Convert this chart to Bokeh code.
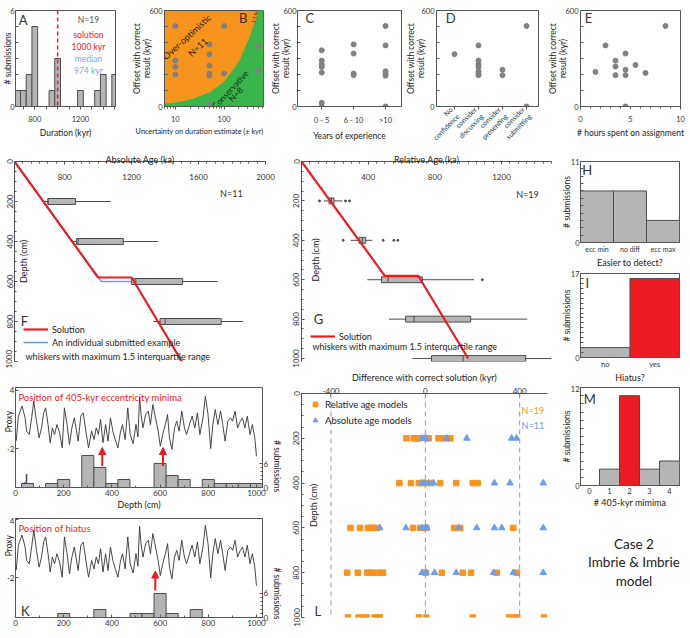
import math
from bokeh.plotting import figure
from bokeh.layouts import row, column
from bokeh.models import (FixedTicker, LinearAxis, Range1d, Span, Label, Arrow, Title,
                          NormalHead, Legend, LegendItem, ColumnDataSource)
from bokeh.embed import file_html
from bokeh.resources import INLINE

FONT = "Lato"
GRAY = "#b5b5b5"
EDGE = "#4d4d4d"
RED = "#ed1c24"
ORANGE = "#f7941d"
GREEN = "#39b54a"
BLUE = "#6d9eeb"
PT = "#808080"
AX = "#555555"
TXT = "#333333"
EMSP = "\u2003"

# ---------------- data ----------------
# A: durations
dur_bins = [650, 700, 750, 800, 950, 1000, 1200, 1350, 1400, 1500]
dur_counts = [1, 1, 2, 5, 1, 3, 1, 1, 2, 2]
dur_solution = 1000
# B: uncertainty vs offset
unc_x = [10, 10, 10, 10, 50, 50, 50, 50, 50, 50, 50, 100, 100, 500, 500]
unc_off = [503, 287, 247, 200, 388, 327, 256, 206, 192, 18, 4, 503, 206, 377, 226]
line11_x = [6, 10, 20, 50, 100, 200, 300, 400, 500, 560, 640]
line11_y = [18, 25, 42, 88, 155, 280, 400, 505, 590, 650, 730]
# C: experience
exp_cats = ["0 - 5", "6 - 10", ">10"]
exp_idx = [0, 0, 0, 0, 0, 0, 0, 1, 1, 1, 1, 2, 2, 2, 2, 2, 2]
exp_off = [351, 287, 262, 247, 212, 24, 0, 388, 331, 206, 196, 503, 382, 220, 206, 192, 0]
# D: confidence
conf_cats = ["No\nconfidence", "consider\ndiscussing", "consider\npresenting", "consider\nsubmitting"]
conf_idx = [0, 1, 1, 1, 1, 1, 1, 1, 2, 2, 3, 3]
conf_off = [327, 382, 287, 262, 247, 220, 206, 196, 230, 196, 503, 0]
# E: hours
hours = [1.5, 2.5, 3.5, 3.5, 3.5, 4.5, 4.5, 4.5, 4.5, 5.5, 6.5, 8.5]
hours_off = [216, 382, 287, 250, 196, 331, 230, 196, 0, 259, 210, 503]

# F: absolute age models
sol_depth = [0, 580, 580, 1000]
sol_abs_age = [500, 1000, 1200, 1500]
ex_abs_age = [500, 985, 1020, 1200]
ex_depth = [0, 565, 600, 600]
f_depth = [200, 400, 600, 800]
f_q1 = [700, 870, 1200, 1370]
f_q3 = [865, 1150, 1505, 1735]
f_med = [700, 880, 1225, 1400]
f_wlo = [672, 850, 1190, 1330]
f_whi = [1075, 1360, 1715, 1865]
# G: relative age models
sol_rel_age = [0, 500, 700, 1000]
g_depth = [200, 400, 600, 800, 1000]
g_q1 = [165, 345, 480, 625, 780]
g_q3 = [195, 385, 725, 1015, 1345]
g_med = [180, 365, 520, 675, 970]
g_wlo = [135, 295, 395, 525, 665]
g_whi = [245, 425, 1035, 1355, 1500]
g_out_age = [108, 264, 288, 250, 490, 554, 578, 1085]
g_out_depth = [200, 200, 200, 400, 400, 400, 400, 600]

# H, I, M
easier_cats = ["ecc min", "no diff", "ecc max"]
easier_counts = [7, 7, 3]
hiatus_cats = ["no", "yes"]
hiatus_counts = [2, 16]
minima_n = [0, 1, 2, 3, 4]
minima_counts = [0, 2, 11, 2, 3]

# J, K: proxy record and histograms
proxy_depth = [3, 12, 27, 40, 46, 57, 67, 76, 87, 98, 108, 117, 125, 135, 144, 153, 162, 172, 183, 194,
               203, 214, 224, 234, 244, 251, 260, 271, 281, 292, 303, 316, 326, 335, 344, 353, 363, 374, 384, 394,
               404, 414, 425, 435, 444, 455, 466, 476, 488, 500, 508, 515, 521, 529, 540, 551, 560, 570, 581, 592,
               601, 611, 622, 631, 639, 649, 660, 669, 679, 690, 701, 710, 724, 733, 744, 755, 765, 778, 788, 799,
               810, 819, 829, 840, 851, 860, 870, 881, 892, 901, 911, 922, 933, 942, 952, 962, 973, 983, 993, 1000]
proxy_value = [-1.2, 1.35, 2.4, 1.17, -0.2, -0.55, 1.17, 2.9, 0.83, -0.9, 0.14, 1.69, 2.21, 0.48, -1.41, 0.14, -0.55, 0.48, -0.38, -1.93,
               2.21, 0.48, -1.58, 0.14, 1.17, 0.14, -1.24, 1.35, 1.69, -0.2, -1.93, -0.2, -1.07, 0.14, -0.55, 1.0, -1.4, 0.48, -1.24, 1.17,
               -0.2, -1.07, -1.93, -0.38, 0.48, -1.07, 2.21, -0.55, -1.5, 0.5, -0.8, 3.3, 1.5, 0.14, 1.52, 1.86, 0.48, 2.55, 1.17, -0.2,
               -1.76, -0.55, 0.48, 1.52, -0.9, -2.1, 0.14, 0.83, -0.2, 1.86, 0.14, -0.55, 0.66, 1.35, 0.14, 1.69, -0.55, 1.17, 3.41, 1.52,
               -2.0, 0.48, 2.03, 0.48, 1.86, 0.48, -1.24, 0.83, 1.17, 0.83, 1.86, 0.14, 0.83, 1.17, 0.14, 1.35, -0.55, 0.48, -0.9, -2.8]
j_bins = [50, 150, 200, 300, 350, 400, 450, 600, 650, 700, 800, 850, 900, 950, 1000]
j_counts = [1, 1, 2, 8, 5, 1, 2, 6, 3, 2, 2, 1, 1, 1, 1]
j_arrow_depth = [360, 612]
j_arrow_tail = [-3.8, -3.8]
j_arrow_head = [-1.9, -1.9]
k_bins = [200, 350, 500, 550, 600, 650, 750]
k_counts = [1, 2, 1, 1, 6, 1, 2]
k_arrow_depth = [580]
k_arrow_tail = [-3.3]
k_arrow_head = [-1.3]

# L: difference with correct solution
rel_diff = {200: [-80, -49, -42, -35, -24, 7, 14, 56, 77, 92, 106],
            400: [-110, -61, -28, -14, 7, 24, 63, 131, 201, 222],
            600: [-317, -277, -244, -232, -221, -204, -52, -21, 4, 122, 148, 373],
            800: [-331, -286, -246, -232, -218, -193, -179, 1, 70, 159, 194, 303, 387],
            1000: [-328, -283, -260, -249, -215, -201, -193, -27, 3, 201, 355, 380, 390, 503]}
abs_diff = {200: [-14, -4, 4, 90, 176, 366, 387],
            400: [-14, -4, 14, 35, 293, 359, 500],
            600: [-193, -82, -14, 0, 7, 141, 218, 293, 324, 500],
            800: [-14, 4, 39, 131, 289, 373, 500]}
guide_lines = [-400, 0, 400]

case_lines = ["Case 2", "Imbrie & Imbrie", "model"]


# ---------------- helpers ----------------
def sty(ax, fs="8px", lfs="9px"):
    ax.axis_line_color = AX
    ax.major_tick_line_color = AX
    ax.minor_tick_line_color = AX
    ax.major_tick_in = 3
    ax.major_tick_out = 0
    ax.minor_tick_in = 2
    ax.minor_tick_out = 0
    ax.major_label_text_font = FONT
    ax.major_label_text_font_size = fs
    ax.major_label_text_color = TXT
    ax.axis_label_text_font = FONT
    ax.axis_label_text_font_size = lfs
    ax.axis_label_text_font_style = "normal"
    ax.axis_label_text_color = "#222222"
    ax.major_label_standoff = 2
    ax.axis_label_standoff = 2


def fig(w, h, l, r, t, b, **kw):
    p = figure(width=w, height=h, min_border_left=l, min_border_right=r,
               min_border_top=t, min_border_bottom=b, output_backend="svg",
               toolbar_location=None, **kw)
    p.xgrid.visible = False
    p.ygrid.visible = False
    p.outline_line_color = AX
    p.background_fill_color = "white"
    p.border_fill_color = "white"
    for ax in p.axis:
        sty(ax)
    return p


def setticks(ax, major, labels=None, minor=()):
    major = list(major)
    ax.ticker = FixedTicker(ticks=major, minor_ticks=list(minor))
    if labels is not None:
        ax.major_label_overrides = {m: s for m, s in zip(major, labels)}


def lab(p, x, y, text, size="9px", color=TXT, align="left", baseline="middle", angle=0.0, **kw):
    p.add_layout(Label(x=x, y=y, text=text, text_font=FONT, text_font_size=size,
                       text_color=color, text_align=align, text_baseline=baseline,
                       angle=angle, **kw))


def inner_title(p, text, dx, ymid, size="9px"):
    # vertical axis title drawn inside the frame, dx pixels from its left edge
    p.add_layout(Label(x=dx, y=ymid, x_units="screen", y_units="data", text=text,
                       angle=math.pi / 2, text_align="center", text_baseline="middle",
                       text_font=FONT, text_font_size=size, text_color="#222222"))


def style_legend(lg, fs="9px", gw=25, gh=12, sp=1):
    lg.border_line_alpha = 0
    lg.background_fill_alpha = 0
    lg.label_text_font = FONT
    lg.label_text_font_size = fs
    lg.label_text_color = "#222222"
    lg.glyph_width = gw
    lg.glyph_height = gh
    lg.label_height = gh
    lg.spacing = sp
    lg.padding = 0
    lg.margin = 0
    lg.label_standoff = 4


def top_row_axes(p):
    xa = p.xaxis[0]
    xa.major_tick_in = 0
    xa.major_tick_out = 3
    xa.minor_tick_in = 0
    xa.minor_tick_out = 2
    xa.major_label_text_font_size = "7.5px"
    xa.axis_label_text_font_size = "8.5px"
    xa.major_label_standoff = 6
    xa.axis_label_standoff = 3
    ya = p.yaxis[0]
    ya.major_label_text_font_size = "7.5px"
    ya.axis_label_text_font_size = "8.5px"
    ya.axis_label_text_line_height = 1.0


def offset_yaxis(p, als=-6):
    ay = p.yaxis[0]
    setticks(ay, range(0, 601, 100), ["0", "", "", "", "", "", "600"])
    top_row_axes(p)
    ay.axis_label = "Offset with correct\nresult (kyr)"
    ay.axis_label_standoff = als


# ---------------- A ----------------
pA = fig(118, 150, 15, 3, 10, 41, x_range=(631, 1507), y_range=(0, 6))
pA.vbar(x=dur_bins, top=dur_counts, width=50, fill_color=GRAY, line_color=EDGE, line_width=1)
pA.add_layout(Span(location=dur_solution, dimension="height", line_color=RED,
                   line_dash="4 3", line_width=1.5))
setticks(pA.xaxis[0], range(700, 1501, 100), ["", "800", "", "", "", "1200", "", "", ""])
setticks(pA.yaxis[0], range(0, 7), ["0", "", "", "", "", "", "6"])
top_row_axes(pA)
pA.xaxis.axis_label = "Duration (kyr)"
pA.yaxis.axis_label = "# submissions"
pA.yaxis[0].axis_label_standoff = -6
pA.yaxis[0].major_label_standoff = 1
lab(pA, 698, 5.4, "A", size="13px", align="center")
lab(pA, 1270, 5.4, "N=19", size="8.5px", color="#555555", align="center")
lab(pA, 1270, 4.49, "solution", size="8.5px", color=RED, align="center")
lab(pA, 1270, 3.70, "1000 kyr", size="8.5px", color=RED, align="center")
lab(pA, 1270, 2.97, "median", size="8.5px", color="#7fa7e1", align="center")
lab(pA, 1270, 2.25, "974 kyr", size="8.5px", color="#7fa7e1", align="center")

# ---------------- B ----------------
pB = fig(150, 150, 46, 5, 10, 41, x_axis_type="log", x_range=(6, 640), y_range=(0, 600))
pB.background_fill_color = ORANGE
pB.varea(x=line11_x, y1=0, y2=line11_y, fill_color=GREEN)
pB.scatter(x=unc_x, y=unc_off, size=5, color=PT)
setticks(pB.xaxis[0], [10, 100], ["10", "100"],
         [6, 7, 8, 9, 20, 30, 40, 50, 60, 70, 80, 90, 200, 300, 400, 500, 600])
offset_yaxis(pB)
pB.add_layout(Title(text="Uncertainty on duration estimate (\u00b1 kyr)", align="right",
                    text_font=FONT, text_font_size="7.3px", text_font_style="normal",
                    text_color="#222222", standoff=1), "below")
lab(pB, 17.2, 436, "Over-optimistic", size="9px", color="#2b1d0e", align="center", angle=0.74)
lab(pB, 28.6, 371, "N=11", size="9px", color="#2b1d0e", align="center", angle=0.74)
lab(pB, 134, 105, "Conservative", size="8.5px", color="#12301a", align="center", angle=0.82)
lab(pB, 174, 75, "N=8", size="8.5px", color="#12301a", align="center", angle=0.82)
lab(pB, 430, 570, "1:1 line", size="5px", color="#5a2a00", align="center", angle=1.3)
lab(pB, 246, 551, "B", size="13px", align="center")

# ---------------- C ----------------
pC = fig(135, 150, 25, 2, 10, 41, x_range=(-0.76, 2.5), y_range=(0, 600))
pC.scatter(x=exp_idx, y=exp_off, size=5, color=PT)
setticks(pC.xaxis[0], [0, 1, 2], exp_cats)
offset_yaxis(pC, als=-11)
pC.yaxis[0].major_label_standoff = 1
pC.xaxis.axis_label = "Years of experience"
lab(pC, -0.37, 551, "C", size="13px", align="center")

# ---------------- D ----------------
pD = fig(142, 150, 29, 7, 10, 41, x_range=(-0.75, 3.5), y_range=(0, 600))
pD.scatter(x=conf_idx, y=conf_off, size=5, color=PT)
setticks(pD.xaxis[0], [0, 1, 2, 3], conf_cats)
offset_yaxis(pD, als=-8)
pD.xaxis[0].major_label_orientation = 0.785
pD.xaxis[0].major_label_text_font_size = "7px"
pD.xaxis[0].major_label_standoff = 2
lab(pD, -0.16, 551, "D", size="13px", align="center")

# ---------------- E ----------------
pE = fig(145, 150, 35, 10, 10, 41, x_range=(0, 10), y_range=(0, 600))
pE.scatter(x=hours, y=hours_off, size=5, color=PT)
setticks(pE.xaxis[0], [0, 5, 10], ["0", "5", "10"], range(1, 10))
offset_yaxis(pE)
pE.xaxis.axis_label = "# hours spent on assignment"
lab(pE, 0.8, 551, "E", size="13px", align="center")

# ---------------- F ----------------
box_h = 30
pF = fig(285, 218, 14, 20, 11, 7, x_range=(500, 2000), y_range=(1000, 0), x_axis_location="above")
pF.outline_line_color = None
pF.segment(x0=f_wlo, y0=f_depth, x1=f_whi, y1=f_depth, line_color=EDGE, line_width=1)
pF.hbar(y=f_depth, left=f_q1, right=f_q3, height=box_h, fill_color=GRAY, line_color=EDGE)
pF.segment(x0=f_med, y0=[d - box_h / 2 for d in f_depth], x1=f_med,
           y1=[d + box_h / 2 for d in f_depth], line_color=EDGE)
rFb = pF.line(ex_abs_age, ex_depth, line_color=BLUE, line_width=1.5)
rFr = pF.line(sol_abs_age, sol_depth, line_color=RED, line_width=2.2)
ax = pF.xaxis[0]
setticks(ax, [800, 1200, 1600, 2000], None, range(500, 2001, 50))
ax.axis_label = "Absolute Age (ka)"
ax.major_label_standoff = -18
ax.axis_label_standoff = 6
ay = pF.yaxis[0]
setticks(ay, range(0, 1001, 200), None, range(0, 1001, 50))
ay.major_label_orientation = "vertical"
inner_title(pF, "Depth (cm)", 9, 500)
legF = Legend(items=[LegendItem(label="Solution", renderers=[rFr]),
                     LegendItem(label="An individual submitted example", renderers=[rFb])],
              location=(9, 13))
style_legend(legF)
pF.add_layout(legF)
lab(pF, 566, 975, "whiskers with maximum 1.5 interquartile range", size="9px", color="#222222")
lab(pF, 560, 795, "F", size="13px", align="center")
lab(pF, 1796, 160, "N=11", size="9px", align="center")

# ---------------- G ----------------
pG = fig(268, 218, 16, 2, 11, 7, x_range=(0, 1500), y_range=(1015, 0), x_axis_location="above")
pG.outline_line_color = None
pG.segment(x0=g_wlo, y0=g_depth, x1=g_whi, y1=g_depth, line_color=EDGE, line_width=1)
pG.hbar(y=g_depth, left=g_q1, right=g_q3, height=box_h, fill_color=GRAY, line_color=EDGE)
pG.segment(x0=g_med, y0=[d - box_h / 2 for d in g_depth], x1=g_med,
           y1=[d + box_h / 2 for d in g_depth], line_color=EDGE)
pG.scatter(x=g_out_age, y=g_out_depth, size=2, color=EDGE)
rGr = pG.line(sol_rel_age, sol_depth, line_color=RED, line_width=2.2)
ax = pG.xaxis[0]
setticks(ax, [400, 800, 1200], None, range(0, 1501, 50))
ax.axis_label = "Relative Age (ka)"
ax.major_label_standoff = -18
ax.axis_label_standoff = 6
ay = pG.yaxis[0]
setticks(ay, range(0, 1001, 200), None, range(0, 1001, 50))
ay.major_label_orientation = "vertical"
inner_title(pG, "Depth (cm)", 14, 500)
legG = Legend(items=[LegendItem(label="Solution", renderers=[rGr])], location=(9, 19))
style_legend(legG)
pG.add_layout(legG)
lab(pG, 66, 940, "whiskers with maximum 1.5 interquartile range", size="9px", color="#222222")
lab(pG, 102, 800, "G", size="13px", align="center")
lab(pG, 1356, 165, "N=19", size="9px", align="center")

# ---------------- L ----------------
pL = fig(268, 270, 16, 6, 19, 21, x_range=(-525, 518), y_range=(1000, 0), x_axis_location="above")
pL.outline_line_color = None
for g in guide_lines:
    pL.add_layout(Span(location=g, dimension="height", line_color="#999999",
                       line_dash="5 4", line_width=1))
rx, ry = [], []
for d, vals in rel_diff.items():
    rx += vals
    ry += [d] * len(vals)
axx, axy = [], []
for d, vals in abs_diff.items():
    axx += vals
    axy += [d] * len(vals)
rL1 = pL.scatter(x=rx, y=ry, marker="square", size=5.5, color=ORANGE)
rL2 = pL.scatter(x=axx, y=axy, marker="triangle", size=6.5, color=BLUE)
ax = pL.xaxis[0]
setticks(ax, guide_lines, ["-400", "0", "400"])
ax.axis_label = "Difference with correct solution (kyr)"
ax.major_label_standoff = 0
ay = pL.yaxis[0]
setticks(ay, range(0, 1001, 200), None, range(0, 1001, 50))
ay.major_label_orientation = "vertical"
inner_title(pL, "Depth (cm)", 12, 500)
legL = Legend(items=[LegendItem(label="Relative age models", renderers=[rL1]),
                     LegendItem(label="Absolute age models", renderers=[rL2])],
              location=(8, 190))
style_legend(legL, fs="9.5px", gw=12, gh=14, sp=2)
pL.add_layout(legL)
lab(pL, 456, 74, "N=19", size="9px", color=ORANGE, align="center")
lab(pL, 456, 143, "N=11", size="9px", color=BLUE, align="center")
lab(pL, -456, 970, "L", size="13px", align="center")


# ---------------- H, I, M ----------------
def count_yaxis(p, top):
    ay = p.yaxis[0]
    setticks(ay, range(0, top + 1), ["0"] + [""] * (top - 1) + [str(top)])
    ay.axis_label = "# submissions"
    ay.major_label_text_font_size = "7.5px"
    ay.axis_label_text_font_size = "8.5px"
    ay.axis_label_standoff = -4
    ay.major_label_standoff = 1


pH = fig(137, 120, 27, 11, 11, 22, x_range=(-0.5, 2.5), y_range=(0, 11))
pH.vbar(x=[0, 1, 2], top=easier_counts, width=1, fill_color=GRAY, line_color=EDGE)
setticks(pH.xaxis[0], [0, 1, 2], easier_cats)
count_yaxis(pH, 11)
pH.xaxis[0].major_tick_in = 0
pH.xaxis[0].major_label_text_font_size = "7px"
pH.xaxis.axis_label = "Easier to detect?"
pH.xaxis[0].axis_label_standoff = 1
lab(pH, -0.3, 9.86, "H", size="13px", align="center")

pI = fig(137, 115, 27, 11, 3, 25, x_range=(-0.5, 1.5), y_range=(0, 17))
pI.vbar(x=[0, 1], top=hiatus_counts, width=1, fill_color=[GRAY, RED], line_color=EDGE)
setticks(pI.xaxis[0], [0, 1], hiatus_cats)
count_yaxis(pI, 17)
pI.xaxis[0].major_tick_in = 0
pI.xaxis[0].major_label_text_font_size = "7.5px"
pI.xaxis.axis_label = "Hiatus?"
pI.xaxis[0].axis_label_standoff = 0
lab(pI, -0.36, 15, "I", size="13px", align="center")

pM = fig(137, 125, 27, 11, 2, 23, x_range=(-0.45, 4.5), y_range=(0, 12))
pM.vbar(x=minima_n, top=minima_counts, width=1,
        fill_color=[RED if n == 2 else GRAY for n in minima_n], line_color=EDGE)
setticks(pM.xaxis[0], minima_n, [str(n) for n in minima_n])
count_yaxis(pM, 12)
pM.xaxis[0].major_tick_in = 0
pM.xaxis[0].major_label_text_font_size = "7.5px"
pM.xaxis.axis_label = "# 405-kyr mimima"
pM.xaxis[0].axis_label_standoff = 0
lab(pM, 0.02, 10.6, "M", size="13px", align="center")

# ---------------- text ----------------
pT = figure(width=137, height=128, x_range=(0, 1), y_range=(0, 1), output_backend="svg",
            toolbar_location=None, x_axis_location=None, y_axis_location=None, min_border=0)
pT.outline_line_color = None
pT.xgrid.visible = False
pT.ygrid.visible = False
for txt, yy in zip(case_lines, [0.742, 0.594, 0.453]):
    lab(pT, 0.54, yy, txt, size="13.5px", color="#222222", align="center")


# ---------------- J, K ----------------
def proxy_panel(h, t, b, yr, hist_top, bins, counts, adepth, atail, ahead, title, letter,
                letter_y, xlabel, proxy_shift, sub_shift):
    p = fig(285, h, 14, 21, t, b, x_range=(0, 1025), y_range=yr)
    p.extra_y_ranges = {"hist": Range1d(0, hist_top)}
    p.vbar(x=bins, top=counts, width=50, fill_color=GRAY, line_color=EDGE, y_range_name="hist")
    p.line(proxy_depth, proxy_value, line_color="#333333", line_width=0.9)
    src = ColumnDataSource(dict(x=adepth, y0=atail, y1=ahead))
    p.add_layout(Arrow(end=NormalHead(size=7, fill_color=RED, line_color=RED), source=src,
                       x_start="x", y_start="y0", x_end="x", y_end="y1",
                       line_color=RED, line_width=2))
    # leading em-spaces push the visible right-hand title down next to the histogram
    rax = LinearAxis(y_range_name="hist", axis_label=EMSP * sub_shift + "# submissions")
    sty(rax)
    rax.axis_label_text_font_size = "8.5px"
    rax.axis_label_standoff = 1
    rax.major_label_standoff = 1
    setticks(rax, [0, 6], ["0", "6"], [1, 2, 3, 4, 5])
    p.add_layout(rax, "right")
    setticks(p.xaxis[0], range(0, 1001, 200), None, range(0, 1001, 100))
    ya = p.yaxis[0]
    setticks(ya, [-2, 4], ["-2", "4"])
    # leading em-spaces push the visible title towards the top of the axis
    ya.axis_label = EMSP * proxy_shift + "Proxy"
    ya.major_label_standoff = 1
    ya.axis_label_standoff = -10
    ya.axis_label_text_font_size = "8.5px"
    if xlabel:
        p.xaxis.axis_label = xlabel
    p.xaxis[0].axis_label_standoff = 0
    lab(p, 12, title[1], title[0], size="9.5px", color=RED)
    lab(p, 41, letter_y, letter, size="13px", align="center")
    return p


pJ = proxy_panel(149, 19, 30, (-6.03, 4.31), 25, j_bins, j_counts, j_arrow_depth,
                 j_arrow_tail, j_arrow_head, ("Position of 405-kyr eccentricity minima", 3.28),
                 "J", -5.1, "Depth (cm)", 5, 9)
pK = proxy_panel(121, 1, 21, (-6.07, 4.1), 24.7, k_bins, k_counts, k_arrow_depth,
                 k_arrow_tail, k_arrow_head, ("Position of hiatus", 3.08),
                 "K", -5.36, None, 7, 8)

upper = row(pF, pG, spacing=0)
lower = row(column(pJ, pK, spacing=0), pL, spacing=0)
left_block = column(upper, lower, spacing=0)
col3 = column(pH, pI, pM, pT, spacing=0)
top = row(pA, pB, pC, pD, pE, spacing=0)
bottom = row(left_block, col3, spacing=0)
lay = column(top, bottom, spacing=0)

open("out.html", "w").write(file_html(lay, INLINE))
